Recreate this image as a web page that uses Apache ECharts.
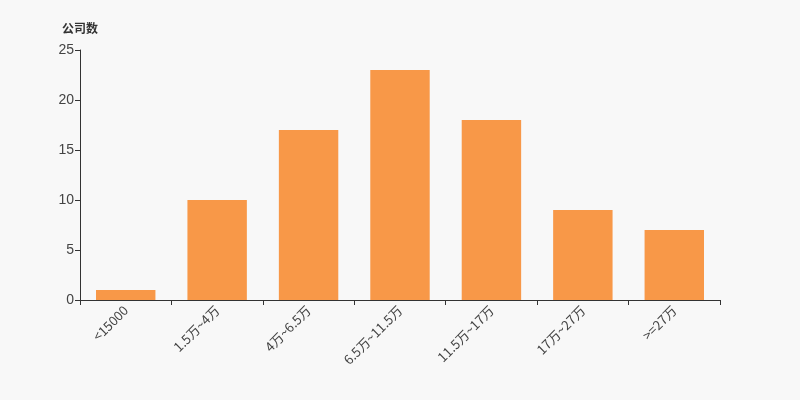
<!DOCTYPE html>
<html><head><meta charset="utf-8">
<script src="https://cdn.jsdelivr.net/npm/echarts@6/dist/echarts.min.js"></script>
<style>html,body{margin:0;padding:0;background:#f8f8f8;}#c{width:800px;height:400px;}</style>
</head><body><div id="c"></div>
<script>
const categories = ["<15000", "1.5万~4万", "4万~6.5万", "6.5万~11.5万", "11.5万~17万", "17万~27万", ">=27万"];
const values = [1, 10, 17, 23, 18, 9, 7];
const yTicks = {min: 0, max: 25, interval: 5};
const chart = echarts.init(document.getElementById('c'));
chart.setOption({
  backgroundColor: '#f8f8f8',
  animation: false,
  grid: {left: 80, right: 80, top: 50, bottom: 100},
  xAxis: {
    type: 'category', data: categories,
    axisLine: {lineStyle: {color: '#333', width: 1}},
    axisTick: {show: true, alignWithLabel: false, length: 5, lineStyle: {color: '#333'}},
    axisLabel: {rotate: 45, color: '#444', fontSize: 13, margin: 8, interval: 0, fontFamily: 'Noto Sans CJK SC'}
  },
  yAxis: {
    type: 'value', min: yTicks.min, max: yTicks.max, interval: yTicks.interval,
    name: '公司数', nameGap: 16,
    nameTextStyle: {color: '#333', fontWeight: 'bold', fontSize: 12, fontFamily: 'Noto Sans CJK SC', align: 'center'},
    axisLine: {show: true, lineStyle: {color: '#333', width: 1}},
    axisTick: {show: true, length: 5, lineStyle: {color: '#333'}},
    axisLabel: {color: '#444', fontSize: 14, margin: 6},
    splitLine: {show: false}
  },
  series: [{
    type: 'bar', data: values, barWidth: '65%',
    itemStyle: {color: '#f89848'}
  }]
});
</script></body></html>
